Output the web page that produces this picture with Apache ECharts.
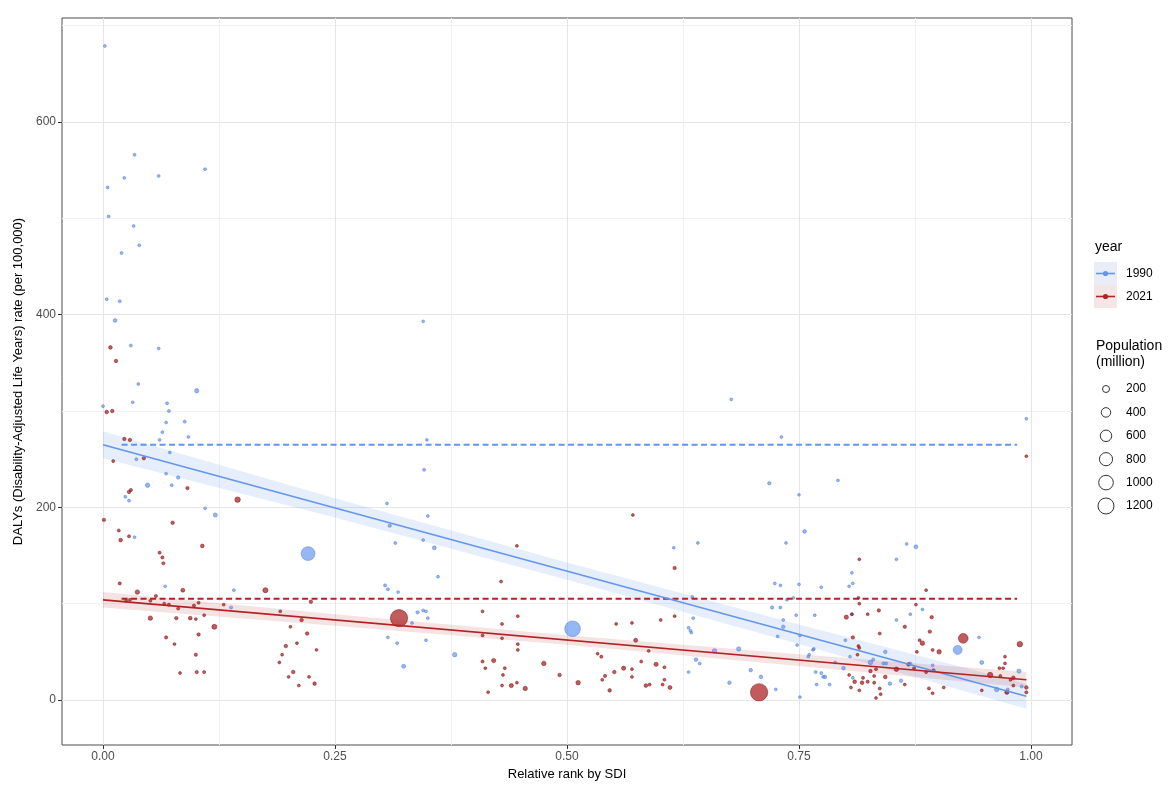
<!DOCTYPE html>
<html><head><meta charset="utf-8">
<script src="https://cdn.jsdelivr.net/npm/echarts@6/dist/echarts.min.js"></script>
<style>html,body{margin:0;padding:0;background:#fff}#chart{width:1170px;height:789px}</style>
</head><body><div id="chart"></div>
<script>
// [relative rank by SDI, DALYs rate per 100,000, population (million)]
const data1990 = [
[0.002,679,5],[0.034,566,5],[0.023,542,5],[0.005,532,5],[0.060,544,4],[0.110,551,5],[0.006,502,6],[0.033,492,4],[0.039,472,5],[0.020,464,8],
[0.004,416,5],[0.018,414,7],[0.013,394,30],[0.030,368,8],[0.060,365,5],[0.038,328,5],[0.101,321,55],[0.345,393,3],[0.000,305,5],[0.032,309,5],
[0.069,308,8],[0.071,300,8],[0.068,288,6],[0.088,289,10],[0.064,278,5],[0.092,273,4],[0.061,270,4],[0.072,257,4],[0.036,250,8],[0.048,223,55],
[0.081,231,20],[0.074,223,6],[0.024,211,8],[0.028,207,8],[0.121,192,45],[0.034,169,3],[0.349,270,3],[0.346,239,10],[0.677,312,3],[0.731,273,3],
[0.718,225,20],[0.792,228,4],[0.995,292,3],[0.221,152,900],[0.141,114,4],[0.138,96,12],[0.067,118,4],[0.306,204,4],[0.350,191,5],[0.309,181,20],
[0.315,163,8],[0.345,166,4],[0.357,158,40],[0.361,128,4],[0.304,119,12],[0.307,115,10],[0.318,112,4],[0.339,91,20],[0.345,93,8],[0.348,92,6],
[0.350,85,4],[0.333,80,4],[0.307,65,4],[0.317,59,6],[0.348,62,4],[0.379,47,60],[0.324,35,40],[0.506,74,1150],[0.615,158,4],[0.641,163,4],
[0.631,75,4],[0.634,70,4],[0.639,42,30],[0.631,29,4],[0.635,107,4],[0.643,38,8],[0.659,51,60],[0.685,53,55],[0.698,31,25],[0.709,24,25],
[0.675,18,25],[0.725,11,4],[0.750,213,4],[0.756,175,30],[0.736,163,4],[0.876,159,40],[0.866,162,4],[0.855,146,4],[0.807,132,4],[0.808,121,4],
[0.804,118,4],[0.724,121,5],[0.730,119,4],[0.750,120,4],[0.774,117,4],[0.737,104,4],[0.744,106,4],[0.721,96,20],[0.730,96,6],[0.747,88,4],
[0.767,88,4],[0.733,83,6],[0.733,76,25],[0.727,66,4],[0.751,67,6],[0.748,57,4],[0.766,53,8],[0.761,47,4],[0.807,89,4],[0.800,62,4],
[0.843,50,25],[0.827,39,60],[0.841,38,10],[0.855,83,4],[0.870,89,4],[0.883,94,4],[0.894,36,4],[0.636,85,4],[0.633,72,4],[0.768,29,8],
[0.774,28,8],[0.778,24,25],[0.769,16,6],[0.783,16,6],[0.751,3,4],[0.798,33,25],[0.808,23,6],[0.848,17,25],[0.860,20,25],[0.947,39,40],
[0.963,11,60],[0.987,30,50],[0.921,52,350],[0.944,65,4],[0.975,11,8],[0.765,52,4],[0.760,45,4],[0.776,24,6],[0.789,39,6],[0.805,45,4],
[0.830,42,8],[0.844,38,6],[0.870,38,8],[0.974,8,8],[0.990,14,10],[0.110,199,3],[0.068,235,3]
];
const data2021 = [
[0.008,366,30],[0.014,352,25],[0.004,299,30],[0.010,300,25],[0.023,271,20],[0.029,270,20],[0.011,248,10],[0.044,251,20],[0.091,220,20],[0.028,216,20],
[0.030,218,15],[0.001,187,20],[0.017,176,10],[0.019,166,30],[0.028,170,10],[0.075,184,25],[0.107,160,30],[0.061,153,10],[0.064,148,15],[0.065,142,10],
[0.145,208,110],[0.018,121,12],[0.037,112,60],[0.086,114,40],[0.057,108,12],[0.025,103,12],[0.029,104,8],[0.051,103,10],[0.066,100,10],[0.071,99,12],
[0.081,95,12],[0.098,98,15],[0.103,101,8],[0.051,85,60],[0.079,85,20],[0.094,85,30],[0.100,84,5],[0.120,76,85],[0.103,68,20],[0.068,65,15],
[0.077,58,5],[0.100,47,15],[0.083,28,5],[0.101,29,15],[0.109,29,10],[0.109,88,4],[0.130,99,4],[0.175,114,90],[0.191,92,5],[0.214,83,25],
[0.224,102,25],[0.220,69,25],[0.202,76,5],[0.209,59,5],[0.197,56,25],[0.193,47,5],[0.205,29,25],[0.200,24,5],[0.211,15,5],[0.222,24,5],
[0.228,17,25],[0.230,52,4],[0.190,39,5],[0.319,85,1400],
[0.446,160,5],[0.429,123,5],[0.409,92,5],[0.447,87,5],[0.430,79,8],[0.409,67,6],[0.430,64,5],[0.409,40,12],[0.421,41,50],[0.412,33,5],
[0.433,33,6],[0.431,26,6],[0.440,15,50],[0.446,18,5],[0.455,12,55],[0.415,8,5],[0.430,15,5],[0.447,58,6],[0.447,52,6],[0.475,38,60],
[0.492,26,25],[0.512,18,60],[0.533,48,6],[0.537,45,12],[0.541,25,15],[0.538,21,8],[0.546,10,25],[0.574,62,40],[0.561,33,50],[0.551,29,25],
[0.570,24,6],[0.580,40,10],[0.588,51,6],[0.596,37,50],[0.605,34,8],[0.585,15,30],[0.589,16,8],[0.603,16,8],[0.611,13,40],[0.605,21,6],
[0.553,79,5],[0.570,80,5],[0.601,83,5],[0.616,87,5],[0.616,137,20],[0.571,192,5],[0.570,32,5],[0.707,8,1420],
[0.815,146,5],[0.887,114,6],[0.814,106,5],[0.815,100,5],[0.801,86,50],[0.807,89,6],[0.824,89,5],[0.836,93,20],[0.893,86,20],[0.876,99,5],
[0.864,76,20],[0.837,69,8],[0.808,65,20],[0.891,71,20],[0.880,62,6],[0.927,64,420],[0.988,58,110],[0.883,59,60],[0.901,50,60],[0.894,52,8],
[0.877,50,8],[0.814,56,6],[0.813,47,6],[0.972,45,6],[0.972,38,6],[0.970,33,6],[0.966,33,5],[0.967,25,8],[0.956,26,100],[0.978,21,8],
[0.981,23,30],[0.981,15,8],[0.974,8,50],[0.995,13,25],[0.995,8,12],[0.947,10,6],[0.855,32,60],[0.868,37,25],[0.874,33,8],[0.887,29,8],
[0.895,31,8],[0.827,30,25],[0.833,32,10],[0.843,24,30],[0.831,25,10],[0.810,19,30],[0.818,18,30],[0.824,19,15],[0.831,18,10],[0.815,10,6],
[0.837,12,8],[0.864,16,6],[0.890,12,10],[0.894,7,6],[0.906,13,6],[0.833,2,5],[0.995,253,4],[0.804,26,6],[0.806,13,6],[0.819,23,8],
[0.838,6,6],[0.815,54,6]
];
// regression lines (read endpoints), confidence band half-widths, mean (dashed) lines
const fit1990 = [[0, 265], [0.995, 4]];
const fit2021 = [[0, 104], [0.995, 21]];
const bandX = [0, 0.25, 0.5, 0.75, 0.995];
const bandHalf1990 = [14, 10, 9, 10, 13];
const bandHalf2021 = [8, 6, 5, 6, 8];
const mean1990 = [[0.02, 265], [0.985, 265]];
const mean2021 = [[0.02, 105], [0.985, 105]];
const xTicks = [0, 0.25, 0.5, 0.75, 1];
const xMinor = [0.125, 0.375, 0.625, 0.875];
const yTicks = [0, 200, 400, 600];
const yMinor = [100, 300, 500, 700];
const years = ['1990', '2021'];
const popLegend = [200, 400, 600, 800, 1000, 1200];

const BLUE = '#6495ED', RED = '#B22222';
const FONT = 'Liberation Sans, Arial, sans-serif';
function sizeOf(p) { return Math.sqrt(7.6 + 0.207 * p); }
function lineY(fit, x) {
  const [a, b] = fit;
  return a[1] + (b[1] - a[1]) * (x - a[0]) / (b[0] - a[0]);
}
function bandSeries(fit, half, color) {
  return {
    type: 'custom', xAxisIndex: 0, yAxisIndex: 0, z: 1, silent: true,
    data: [[0.5, 100]],
    renderItem: function (params, api) {
      const pts = [];
      bandX.forEach((x, i) => pts.push(api.coord([x, lineY(fit, x) + half[i]])));
      for (let i = bandX.length - 1; i >= 0; i--) pts.push(api.coord([bandX[i], lineY(fit, bandX[i]) - half[i]]));
      return { type: 'polygon', shape: { points: pts }, style: { fill: color } };
    }
  };
}
const chart = echarts.init(document.getElementById('chart'), null, { renderer: 'canvas' });
const xMin = -0.0442, xMax = 1.0442, yMin = -46.7, yMax = 708;
const majorLine = { show: true, lineStyle: { color: '#e6e6e6', width: 1 } };
const minorLine = { show: true, lineStyle: { color: '#f1f1f1', width: 1 } };

const graphic = [];
const LX = 1094;
graphic.push({ type: 'text', left: LX + 1, top: 240, style: { text: 'year', font: '14px ' + FONT, fill: '#000' } });
[[BLUE, '#e9edf7', 262], [RED, '#f4e6e6', 285]].forEach(([c, bg, top], i) => {
  graphic.push({ type: 'rect', shape: { x: LX, y: top, width: 23, height: 23 }, style: { fill: bg } });
  graphic.push({ type: 'line', shape: { x1: LX + 2, y1: top + 11.5, x2: LX + 21, y2: top + 11.5 }, style: { stroke: c, lineWidth: 1.6 } });
  graphic.push({ type: 'circle', shape: { cx: LX + 11.5, cy: top + 11.5, r: 2.6 }, style: { fill: c } });
  graphic.push({ type: 'text', x: LX + 32, y: top + 11.5, style: { text: years[i], font: '12px ' + FONT, fill: '#000', verticalAlign: 'middle' } });
});
graphic.push({ type: 'text', x: LX + 2, y: 346, style: { text: 'Population', font: '14px ' + FONT, fill: '#000', verticalAlign: 'middle' } });
graphic.push({ type: 'text', x: LX + 2, y: 362, style: { text: '(million)', font: '14px ' + FONT, fill: '#000', verticalAlign: 'middle' } });
popLegend.forEach((p, i) => {
  const cy = 389 + i * 23.4;
  graphic.push({ type: 'circle', shape: { cx: LX + 12, cy: cy, r: sizeOf(p) / 2 }, style: { fill: 'none', stroke: '#333', lineWidth: 1 } });
  graphic.push({ type: 'text', x: LX + 32, y: cy, style: { text: String(p), font: '12px ' + FONT, fill: '#000', verticalAlign: 'middle' } });
});

function scatter(data, name, fill, border) {
  return {
    type: 'scatter', name: name, data: data, xAxisIndex: 0, yAxisIndex: 0, z: 2,
    symbolSize: v => sizeOf(v[2]),
    itemStyle: { color: fill, borderColor: border, borderWidth: 0.6 }
  };
}
function line(data, color, dashed, width) {
  return {
    type: 'line', data: data, xAxisIndex: 0, yAxisIndex: 0, z: 3, showSymbol: false, silent: true,
    lineStyle: { color: color, width: width, type: dashed ? [6, 3.5] : 'solid' }
  };
}

chart.setOption({
  animation: false,
  backgroundColor: '#fff',
  textStyle: { fontFamily: FONT },
  grid: { left: 62, right: 98, top: 18, bottom: 44, show: true, borderColor: '#4d4d4d', borderWidth: 1, backgroundColor: 'transparent' },
  xAxis: [
    { type: 'value', min: xMin, max: xMax, position: 'bottom',
      name: 'Relative rank by SDI', nameLocation: 'middle', nameGap: 21,
      nameTextStyle: { fontSize: 13, color: '#000', fontFamily: FONT },
      axisLine: { show: false, onZero: false },
      axisTick: { show: true, length: 4, customValues: xTicks, lineStyle: { color: '#333' } },
      axisLabel: { customValues: xTicks, formatter: v => v.toFixed(2), fontSize: 12, color: '#4d4d4d', margin: 6, fontFamily: FONT },
      splitLine: majorLine },
    { type: 'value', min: xMin, max: xMax, position: 'bottom',
      axisLine: { show: false, onZero: false }, axisLabel: { show: false },
      axisTick: { show: false, customValues: xMinor },
      splitLine: minorLine }
  ],
  yAxis: [
    { type: 'value', min: yMin, max: yMax, position: 'left',
      name: 'DALYs (Disability-Adjusted Life Years) rate (per 100,000)', nameLocation: 'middle', nameGap: 36,
      nameTextStyle: { fontSize: 13, color: '#000', fontFamily: FONT },
      axisLine: { show: false, onZero: false },
      axisTick: { show: true, length: 4, customValues: yTicks, lineStyle: { color: '#333' } },
      axisLabel: { customValues: yTicks, fontSize: 12, color: '#4d4d4d', margin: 6, fontFamily: FONT },
      splitLine: majorLine },
    { type: 'value', min: yMin, max: yMax, position: 'left',
      axisLine: { show: false, onZero: false }, axisLabel: { show: false },
      axisTick: { show: false, customValues: yMinor },
      splitLine: minorLine }
  ],
  graphic: graphic,
  series: [
    bandSeries(fit1990, bandHalf1990, 'rgba(100,149,237,0.16)'),
    bandSeries(fit2021, bandHalf2021, 'rgba(178,34,34,0.13)'),
    scatter(data1990, '1990', 'rgba(100,149,237,0.85)', 'rgba(70,110,205,0.9)'),
    scatter(data2021, '2021', 'rgba(170,28,28,0.9)', 'rgba(110,8,8,0.95)'),
    line(mean1990, BLUE, true, 2),
    line(mean2021, RED, true, 2),
    line(fit1990, BLUE, false, 1.6),
    line(fit2021, RED, false, 1.6)
  ]
});
</script></body></html>
